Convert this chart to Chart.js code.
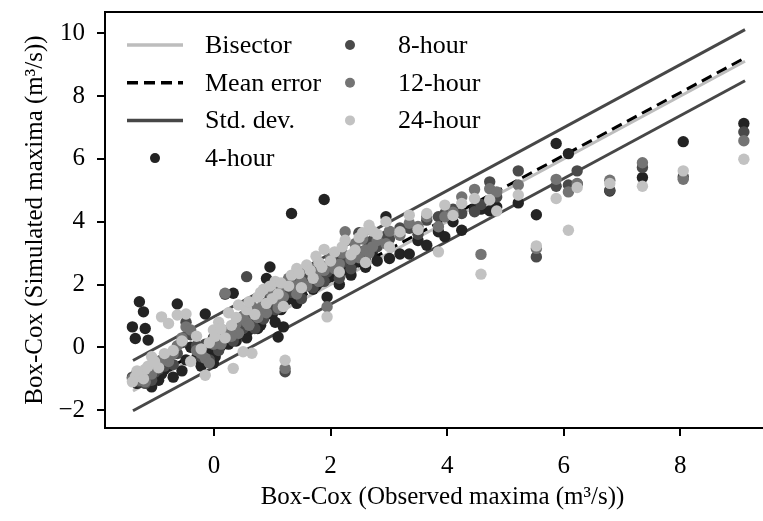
<!DOCTYPE html>
<html>
<head>
<meta charset="utf-8">
<script src="https://cdn.jsdelivr.net/npm/chart.js@4/dist/chart.umd.min.js"></script>
<style>
  html, body { margin: 0; padding: 0; background: #fff; overflow: hidden; }
  canvas { display: block; }
</style>
</head>
<body>
<canvas id="c" width="800" height="521"></canvas>
<script>
// Box-Cox observed maxima (one value per station) and simulated maxima per duration
const obsX = [-1.40, -1.35, -1.28, -1.21, -1.18, -1.13, -1.07, -0.95, -0.90, -0.78,
  -0.70, -0.63, -0.55, -0.48, -0.40, -0.30, -0.22, -0.15, -0.08, -0.01,
  0.08, 0.19, 0.25, 0.33, 0.42, 0.50, 0.56, 0.65, 0.75, 0.85,
  0.90, 0.96, 1.05, 1.10, 1.19, 1.22, 1.33, 1.42, 1.50, 1.59,
  1.70, 1.80, 1.89, 1.94, 2.07, 2.15, 2.25, 2.35, 2.49, 2.60,
  2.66, 2.80, 2.95, 3.01, 3.19, 3.35, 3.50, 3.65, 3.85, 3.96,
  4.10, 4.25, 4.47, 4.58, 4.73, 4.85, 5.22, 5.53, 5.87, 6.08,
  6.23, 6.79, 7.35, 8.05, 9.09,
  -1.32, -1.02, -0.85, 0.02, 0.12, 0.30, 0.38, 0.60, 0.70, 0.80,
  1.00, 1.15, 1.28, 1.46, 1.65, 1.75, 1.85, 2.00, 2.20, 2.42,
  2.55, 2.72];
const sim4h = [0.65, 0.28, 1.45, 1.13, 0.60, 0.23, -1.26, -1.05, -0.85, -0.60,
  -0.95, 1.38, -0.75, -0.40, 0.00, -0.35, -0.60, 1.06, -0.20, -0.51,
  -0.05, 0.45, 0.10, 1.72, 0.50, 0.90, 0.30, 1.10, 0.60, 1.30,
  2.19, 2.56, 0.80, 0.33, 0.65, 1.50, 4.26, 1.40, 1.70, 2.05,
  1.85, 2.20, 4.71, 1.60, 2.45, 2.00, 2.60, 2.30, 3.63, 2.55,
  3.10, 2.75, 4.16, 2.83, 2.97, 2.97, 3.40, 3.25, 3.68, 3.52,
  4.00, 3.73, 4.42, 4.40, 4.35, 4.47, 4.60, 4.22, 6.49, 6.17,
  5.20, 4.98, 5.41, 6.55, 7.13,
  -1.15, -0.95, -0.70, -0.30, 0.05, 0.30, 0.20, 0.55, 0.85, 0.70,
  1.05, 1.20, 1.55, 1.60, 2.10, 1.95, 2.35, 2.25, 2.45, 2.70,
  2.90, 3.05];
const sim8h = [-0.95, -1.05, -1.10, -0.85, -1.15, -0.95, -1.05, -0.70, -0.50, -0.30,
  -0.55, -0.20, 0.15, 0.80, 0.40, 0.05, -0.30, 0.10, -0.40, 0.30,
  -0.10, 1.69, 0.35, 0.20, 0.70, 0.60, 2.25, 0.75, 1.20, 0.90,
  1.35, 1.60, 1.20, 1.55, 1.85, -0.78, 1.75, 1.95, 1.55, 2.30,
  1.90, 2.55, 2.10, 2.40, 2.75, 2.20, 2.90, 2.50, 3.65, 2.80,
  3.30, 3.20, 3.55, 3.45, 3.80, 3.79, 3.60, 4.05, 4.16, 4.26,
  4.40, 4.26, 4.32, 4.55, 5.27, 4.79, 5.62, 2.88, 5.13, 5.17,
  5.62, 5.00, 5.73, 5.43, 6.86,
  -1.00, -0.80, -0.60, 0.10, 0.25, 0.50, 0.40, 0.95, 0.60, 1.05,
  1.40, 1.35, 1.80, 2.05, 2.15, 2.40, 2.20, 2.60, 2.70, 3.00,
  3.05, 3.40];
const sim12h = [-1.00, -0.90, -1.05, -0.95, -1.10, -0.75, -0.85, -0.55, -0.40, -0.45,
  -0.20, 0.05, 0.30, 0.65, 0.55, -0.10, -0.20, -0.35, -0.50, 0.10,
  0.40, 1.72, 0.55, 0.60, 0.45, 1.00, 0.80, 1.30, 0.95, 1.40,
  1.10, 1.75, 1.50, 1.25, 1.60, -0.67, 2.00, 1.70, 2.10, 1.95,
  2.35, 2.10, 2.45, 1.29, 2.50, 2.65, 3.68, 2.80, 2.85, 3.10,
  3.00, 3.40, 3.30, 3.70, 3.57, 3.95, 3.85, 4.16, 3.84, 4.16,
  4.30, 4.79, 5.03, 2.96, 5.05, 4.95, 5.17, 3.15, 5.35, 4.95,
  5.22, 5.32, 5.88, 5.35, 6.58,
  -0.80, -0.60, -0.30, 0.25, 0.10, 0.35, 0.75, 0.70, 1.10, 1.25,
  1.65, 1.90, 2.20, 1.85, 2.50, 2.25, 2.60, 2.85, 3.00, 3.30,
  3.45, 3.20];
const sim24h = [-1.10, -0.95, -0.85, -1.00, -0.70, -0.60, -0.30, -0.65, 0.97, 0.76,
  -0.10, 1.03, 0.20, 1.06, -0.45, 0.35, -0.05, -0.89, 0.15, 0.55,
  0.80, 0.30, 1.10, -0.67, 1.35, -0.14, 1.20, -0.19, 1.60, 1.85,
  1.40, 1.95, 2.10, 1.70, 1.30, -0.41, 2.30, 2.51, 1.90, 2.62,
  2.20, 2.70, 3.12, 0.97, 3.04, 2.40, 3.41, 2.95, 3.50, 2.70,
  3.89, 3.60, 4.00, 3.20, 3.68, 4.21, 3.75, 4.26, 3.04, 4.53,
  4.20, 4.58, 4.74, 2.33, 4.70, 4.34, 4.85, 3.23, 4.74, 3.73,
  5.09, 5.22, 5.13, 5.62, 5.99,
  -0.75, -0.45, -0.20, 0.35, 0.60, 0.70, 0.95, 1.45, 1.05, 1.75,
  1.55, 2.05, 1.95, 2.35, 2.45, 2.90, 2.55, 2.75, 3.20, 3.10,
  3.65, 3.70];

// reference lines: end points only
const lineX = [-1.39, 9.11];
const bisectorY = [-1.39, 9.11];
const meanErrY = [-1.27, 9.22];
const stdUpY = [-0.42, 10.12];
const stdLoY = [-2.02, 8.49];

const xTicks = [0, 2, 4, 6, 8];
const yTicks = [-2, 0, 2, 4, 6, 8, 10];

const FONT = "'Liberation Serif', 'Times New Roman', serif";
const pts = (xs, ys) => xs.map((x, i) => ({ x, y: ys[i] }));
const num = (v) => (v < 0 ? "\u2212" + Math.abs(v) : String(v));

const line = (label, ys, color, dash, order) => ({
  label, data: pts(lineX, ys), showLine: true, borderColor: color, backgroundColor: color,
  borderWidth: 3, borderDash: dash, pointRadius: 0, order, kind: "line"
});
const dots = (label, ys, color, order) => ({
  label, data: pts(obsX, ys), backgroundColor: color, borderWidth: 0,
  pointRadius: 5.7, pointHoverRadius: 5.7, order, kind: "dot"
});

const datasets = [
  line("Bisector", bisectorY, "#bdbdbd", [], 6),
  line("Mean error", meanErrY, "#000000", [11, 6], 4),
  line("Std. dev.", stdUpY, "#474747", [], 5),
  dots("4-hour", sim4h, "#232323", 3),
  dots("8-hour", sim8h, "#4a4a4a", 2),
  dots("12-hour", sim12h, "#747474", 1),
  dots("24-hour", sim24h, "#c2c2c2", 0),
  Object.assign(line("Std. dev.", stdLoY, "#474747", [], 5), { noLegend: true })
];

// frame around the plot area (top/right spines)
const frame = {
  id: "frame",
  afterDatasetsDraw(chart) {
    const { ctx, chartArea: a } = chart;
    ctx.save(); ctx.strokeStyle = "#000"; ctx.lineWidth = 2;
    ctx.strokeRect(a.left, a.top, a.right - a.left, a.bottom - a.top);
    ctx.restore();
  }
};

// two-column legend in the upper left corner of the plot
const cornerLegend = {
  id: "cornerLegend",
  afterDraw(chart) {
    const { ctx, chartArea: a } = chart;
    const items = chart.data.datasets.filter((d) => !d.noLegend);
    const slots = [[0, 0], [0, 1], [0, 2], [0, 3], [1, 0], [1, 1], [1, 2]];
    ctx.save();
    ctx.font = "26px " + FONT; ctx.textBaseline = "middle"; ctx.fillStyle = "#000";
    items.forEach((d, i) => {
      const [col, row] = slots[i];
      const y = a.top + 33 + row * 37.7;
      const x0 = a.left + (col ? 217 : 22);
      if (d.kind === "line") {
        ctx.beginPath(); ctx.strokeStyle = d.borderColor; ctx.lineWidth = 3.5;
        ctx.setLineDash(d.borderDash); ctx.moveTo(x0, y); ctx.lineTo(x0 + 56, y); ctx.stroke();
        ctx.setLineDash([]);
      } else {
        ctx.beginPath(); ctx.fillStyle = d.backgroundColor;
        ctx.arc(x0 + 28, y, 5, 0, Math.PI * 2); ctx.fill(); ctx.fillStyle = "#000";
      }
      ctx.fillText(d.label, x0 + (col ? 76 : 78), y + 1);
    });
    ctx.restore();
  }
};

const axisFont = { family: FONT, size: 25 };
new Chart(document.getElementById("c"), {
  type: "scatter",
  data: { datasets },
  plugins: [frame, cornerLegend],
  options: {
    responsive: false, animation: false, devicePixelRatio: 1,
    layout: { padding: { top: 12, right: 20, left: 0, bottom: 0 } },
    plugins: { legend: { display: false }, tooltip: { enabled: false } },
    scales: {
      x: {
        type: "linear", min: -1.87, max: 9.71,
        afterBuildTicks: (ax) => { ax.ticks = xTicks.map((v) => ({ value: v })); },
        afterFit: (ax) => { ax.height = 93; ax.paddingLeft = 0; ax.paddingRight = 0; },
        grid: { drawOnChartArea: false, tickLength: 8, color: "#000", lineWidth: 2 },
        border: { display: true, color: "#000", width: 2 },
        ticks: { color: "#000", font: axisFont, padding: 15, maxRotation: 0, callback: num },
        title: { display: true, text: "Box-Cox (Observed maxima (m\u00b3/s))", color: "#000", font: axisFont, padding: { bottom: 9 } }
      },
      y: {
        type: "linear", min: -2.57, max: 10.68,
        afterBuildTicks: (ax) => { ax.ticks = yTicks.map((v) => ({ value: v })); },
        afterFit: (ax) => { ax.width = 105; ax.paddingTop = 0; ax.paddingBottom = 0; },
        grid: { drawOnChartArea: false, tickLength: 8, color: "#000", lineWidth: 2 },
        border: { display: true, color: "#000", width: 2 },
        ticks: { color: "#000", font: axisFont, padding: 12, callback: num },
        title: { display: true, text: "Box-Cox (Simulated maxima (m\u00b3/s))", color: "#000", font: axisFont, padding: { top: 20 } }
      }
    }
  }
});
</script>
</body>
</html>
